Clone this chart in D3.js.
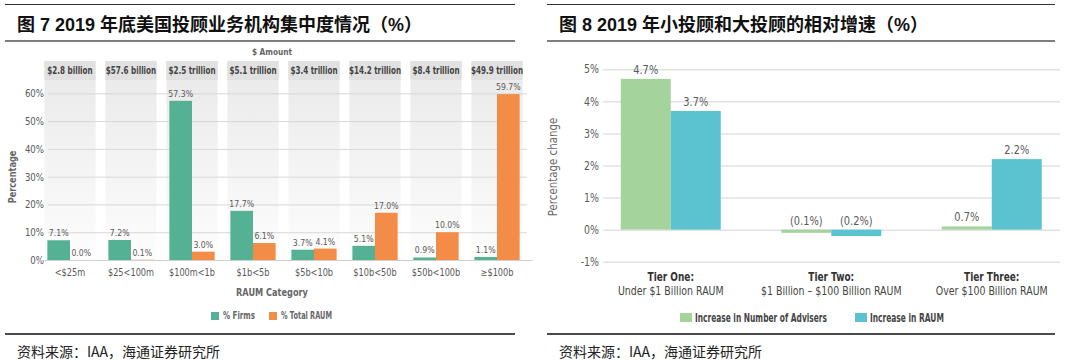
<!DOCTYPE html>
<html>
<head>
<meta charset="utf-8">
<script src="https://cdn.jsdelivr.net/npm/d3@7"></script>
<style>
  body { margin: 0; background: #fff; }
  svg { display: block; }
  .cn { font-family: "Noto Sans CJK SC", sans-serif; }
  .tt { font-family: "Liberation Sans", "Noto Sans CJK SC", sans-serif; }
  .nar { font-family: "DejaVu Sans", sans-serif; }
</style>
</head>
<body>
<svg id="chart" width="1080" height="362"></svg>
<script>
// ---- left chart data ----
let categories = ['<$25m', '$25<100m', '$100m<1b', '$1b<5b', '$5b<10b', '$10b<50b', '$50b<100b', '≥$100b'];
let amounts = ['$2.8 billion', '$57.6 billion', '$2.5 trillion', '$5.1 trillion', '$3.4 trillion', '$14.2 trillion', '$8.4 trillion', '$49.9 trillion'];
let firms = [7.1, 7.2, 57.3, 17.7, 3.7, 5.1, 0.9, 1.1];
let totalRaum = [0.0, 0.1, 3.0, 6.1, 4.1, 17.0, 10.0, 59.7];
let leftTicks = [0, 10, 20, 30, 40, 50, 60];

// ---- right chart data ----
let tiers = ['Tier One:', 'Tier Two:', 'Tier Three:'];
let tierSub = ['Under $1 Billion RAUM', '$1 Billion – $100 Billion RAUM', 'Over $100 Billion RAUM'];
// bar heights as drawn in the source picture (tier three advisers bar is drawn very short)
let advisers = [4.7, -0.1, 0.1];
let raumGrowth = [3.7, -0.2, 2.2];
let advisersLabels = ['4.7%', '(0.1%)', '0.7%'];
let raumLabels = ['3.7%', '(0.2%)', '2.2%'];
let rightTicks = [-1, 0, 1, 2, 3, 4, 5];

let svg = d3.select('#chart');
let textGray = '#595959';

// ---------- frames, titles, sources ----------
function frame(x0, x1, title) {
    svg.append('line').attr('x1', x0).attr('x2', x1).attr('y1', 4.5).attr('y2', 4.5)
        .attr('stroke', '#333').attr('stroke-width', 1);
    svg.append('text').attr('class', 'tt').attr('x', x0 + 12).attr('y', 31)
        .attr('font-size', 18).attr('font-weight', 'bold').attr('fill', '#111')
        .text(title);
    svg.append('line').attr('x1', x0).attr('x2', x1).attr('y1', 41).attr('y2', 41)
        .attr('stroke', '#555').attr('stroke-width', 1.5);
    svg.append('line').attr('x1', x0).attr('x2', x1).attr('y1', 334).attr('y2', 334)
        .attr('stroke', '#111').attr('stroke-width', 1.5);
    svg.append('text').attr('class', 'cn').attr('x', x0 + 12).attr('y', 357)
        .attr('font-size', 14).attr('fill', '#222')
        .text('资料来源：IAA，海通证券研究所');
}
frame(5, 515, '图 7 2019 年底美国投顾业务机构集中度情况（%）');
frame(547, 1055, '图 8 2019 年小投顾和大投顾的相对增速（%）');

// ---------- left chart ----------
let green = '#55b193', orange = '#f28c46';

let x = d3.scaleBand()
    .domain(categories)
    .range([34.6, 532.4])
    .paddingInner(0.16)
    .paddingOuter(0.16);

let y = d3.scaleLinear()
    .domain([0, 60])
    .range([260, 93.3]);

let inner = d3.scaleBand()
    .domain(['firms', 'raum'])
    .range([3, x.bandwidth() - 3]);

let defs = svg.append('defs');
let grad = defs.append('linearGradient').attr('id', 'colGrad')
    .attr('x1', 0).attr('x2', 0).attr('y1', 0).attr('y2', 1);
grad.append('stop').attr('offset', '0%').attr('stop-color', '#e9e9e9');
grad.append('stop').attr('offset', '100%').attr('stop-color', '#fdfdfd');

let left = svg.append('g');

// grey columns
left.selectAll('.col')
    .data(categories)
    .enter()
    .append('rect')
    .attr('class', 'col')
    .attr('x', d => x(d))
    .attr('y', 61)
    .attr('width', x.bandwidth())
    .attr('height', y(0) - 61)
    .attr('fill', 'url(#colGrad)');

left.selectAll('.head')
    .data(categories)
    .enter()
    .append('rect')
    .attr('class', 'head')
    .attr('x', d => x(d))
    .attr('y', 61)
    .attr('width', x.bandwidth())
    .attr('height', 19)
    .attr('fill', '#e1e1e1');

left.selectAll('.headText')
    .data(amounts)
    .enter()
    .append('text')
    .attr('class', 'nar')
    .attr('x', (d, i) => x(categories[i]) + x.bandwidth() / 2)
    .attr('y', 74)
    .attr('text-anchor', 'middle')
    .attr('font-size', 10)
    .attr('font-weight', 'bold')
    .attr('fill', '#444')
    .attr('data-k', 0.72)
    .text(d => d);

left.append('text').attr('class', 'nar')
    .attr('x', 272).attr('y', 55)
    .attr('text-anchor', 'middle').attr('font-size', 9).attr('font-weight', 'bold')
    .attr('fill', '#666').text('$ Amount');

// gridlines + y axis
let yAxisL = d3.axisLeft(y)
    .tickValues(leftTicks)
    .tickSize(-(527 - 48))
    .tickFormat(d => d + '%');

left.append('g')
    .attr('transform', 'translate(48,0)')
    .call(yAxisL)
    .call(g => g.select('.domain').remove())
    .call(g => g.selectAll('.tick line').attr('stroke', '#d8d8d8').attr('stroke-width', 1))
    .call(g => g.selectAll('.tick text').attr('class', 'nar').attr('x', -4)
        .attr('font-size', 10.5).attr('fill', textGray).attr('font-family', null));

// bars
function drawSeries(g, values, key, color) {
    g.selectAll('.bar-' + key)
        .data(values)
        .enter()
        .append('rect')
        .attr('class', 'bar-' + key)
        .attr('x', (d, i) => x(categories[i]) + inner(key))
        .attr('y', d => y(d))
        .attr('width', inner.bandwidth())
        .attr('height', d => y(0) - y(d))
        .attr('fill', color);
    g.selectAll('.lab-' + key)
        .data(values)
        .enter()
        .append('text')
        .attr('class', 'nar')
        .attr('x', (d, i) => x(categories[i]) + inner(key) + inner.bandwidth() / 2)
        .attr('y', d => y(d) - 4)
        .attr('text-anchor', 'middle')
        .attr('font-size', 9.5)
        .attr('fill', textGray)
        .text(d => d.toFixed(1) + '%');
}
drawSeries(left, firms, 'firms', green);
drawSeries(left, totalRaum, 'raum', orange);

// x axis labels
let xAxisL = d3.axisBottom(x).tickSize(0).tickPadding(9);
left.append('g')
    .attr('transform', 'translate(0,' + y(0) + ')')
    .call(xAxisL)
    .call(g => g.select('.domain').attr('stroke', '#d0d0d0'))
    .call(g => g.selectAll('.tick text').attr('class', 'nar')
        .attr('font-size', 10).attr('fill', textGray).attr('font-family', null));

left.append('text').attr('class', 'nar')
    .attr('transform', 'translate(16,177) rotate(-90)')
    .attr('text-anchor', 'middle').attr('font-size', 10).attr('font-weight', 'bold')
    .attr('fill', '#666').text('Percentage');

left.append('text').attr('class', 'nar')
    .attr('x', 272).attr('y', 296)
    .attr('text-anchor', 'middle').attr('font-size', 10).attr('font-weight', 'bold')
    .attr('fill', '#666').text('RAUM Category');

// legend
let legL = [['% Firms', green, 211, 32], ['% Total RAUM', orange, 269, 51]];
legL.forEach(function (d) {
    left.append('rect').attr('x', d[2]).attr('y', 312).attr('width', 8).attr('height', 8).attr('fill', d[1]);
    left.append('text').attr('class', 'nar').attr('x', d[2] + 12).attr('y', 319.5)
        .attr('font-size', 10).attr('font-weight', 'bold').attr('fill', '#666')
        .attr('data-w', d[3]).text(d[0]);
});

// ---------- right chart ----------
let green2 = '#a4d49b', blue2 = '#5bc3cf';

let x2 = d3.scaleBand()
    .domain(tiers)
    .range([590.5, 1072]);

let y2 = d3.scaleLinear()
    .domain([-1, 5])
    .range([261.7, 69.3]);

let inner2 = d3.scaleBand()
    .domain(['adv', 'raum'])
    .range([30.25, x2.bandwidth() - 30.25]);

let right = svg.append('g');

let yAxisR = d3.axisLeft(y2)
    .tickValues(rightTicks)
    .tickSize(-(1060 - 603))
    .tickFormat(d => d + '%');

right.append('g')
    .attr('transform', 'translate(603,0)')
    .call(yAxisR)
    .call(g => g.select('.domain').remove())
    .call(g => g.selectAll('.tick line').attr('stroke', '#e2e2e2').attr('stroke-width', 1.5))
    .call(g => g.selectAll('.tick text').attr('class', 'nar').attr('x', -4)
        .attr('font-size', 11.5).attr('fill', textGray).attr('font-family', null));

function drawSeries2(values, labels, key, color) {
    right.selectAll('.bar2-' + key)
        .data(values)
        .enter()
        .append('rect')
        .attr('x', (d, i) => x2(tiers[i]) + inner2(key))
        .attr('y', d => y2(Math.max(d, 0)))
        .attr('width', inner2.bandwidth())
        .attr('height', d => Math.abs(y2(d) - y2(0)))
        .attr('fill', color);
    right.selectAll('.lab2-' + key)
        .data(values)
        .enter()
        .append('text')
        .attr('class', 'nar')
        .attr('x', (d, i) => x2(tiers[i]) + inner2(key) + inner2.bandwidth() / 2)
        .attr('y', d => y2(Math.max(d, 0)) - 5)
        .attr('text-anchor', 'middle')
        .attr('font-size', 12)
        .attr('fill', textGray)
        .text((d, i) => labels[i]);
}
drawSeries2(advisers, advisersLabels, 'adv', green2);
drawSeries2(raumGrowth, raumLabels, 'raum', blue2);

// tier labels
right.selectAll('.tier')
    .data(tiers)
    .enter()
    .append('text')
    .attr('class', 'nar')
    .attr('x', d => x2(d) + x2.bandwidth() / 2)
    .attr('y', 281)
    .attr('text-anchor', 'middle').attr('font-size', 11.5).attr('font-weight', 'bold')
    .attr('fill', '#333').attr('data-k', 0.78).text(d => d);

right.selectAll('.tierSub')
    .data(tierSub)
    .enter()
    .append('text')
    .attr('class', 'nar')
    .attr('x', (d, i) => x2(tiers[i]) + x2.bandwidth() / 2)
    .attr('y', 295)
    .attr('text-anchor', 'middle').attr('font-size', 11.5)
    .attr('fill', '#444').text(d => d);

right.append('text').attr('class', 'nar')
    .attr('transform', 'translate(557,167) rotate(-90)')
    .attr('text-anchor', 'middle').attr('font-size', 12.5)
    .attr('fill', '#666').text('Percentage change');

let legR = [['Increase in Number of Advisers', green2, 680, 132], ['Increase in RAUM', blue2, 855, 74]];
legR.forEach(function (d) {
    right.append('rect').attr('x', d[2]).attr('y', 313).attr('width', 12).attr('height', 9).attr('fill', d[1]);
    right.append('text').attr('class', 'nar').attr('x', d[2] + 15).attr('y', 322)
        .attr('font-size', 11.5).attr('font-weight', 'bold').attr('fill', '#444')
        .attr('data-w', d[3]).text(d[0]);
});

// squeeze the narrow-style texts horizontally (no condensed face is installed)
svg.selectAll('text.nar').each(function () {
    let el = d3.select(this);
    let w = this.getComputedTextLength();
    let k = el.attr('data-w') ? (+el.attr('data-w') / w) : +(el.attr('data-k') || 0.82);
    let tx = +(el.attr('x') || 0), ty = +(el.attr('y') || 0);
    let t0 = el.attr('transform') || '';
    el.attr('transform', t0 + ' translate(' + tx + ',' + ty + ') scale(' + k + ',1) translate(' + (-tx) + ',' + (-ty) + ')');
});
</script>
</body>
</html>
